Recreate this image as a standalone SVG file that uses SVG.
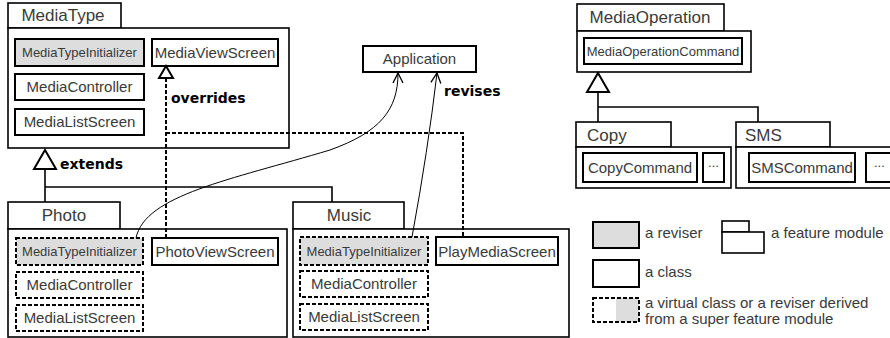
<svg xmlns="http://www.w3.org/2000/svg" width="890" height="338" viewBox="0 0 890 338">
<style>
.mod{fill:#fff;stroke:#000;stroke-width:1.6}
.cls{fill:#fff;stroke:#000;stroke-width:2}
.rev{fill:#ddd;stroke:#000;stroke-width:2}
.dsh{stroke-dasharray:4 2}
.t{font-family:"Liberation Sans",Arial,sans-serif;font-size:15px;fill:#3a3a3a}
.ts{font-family:"Liberation Sans",Arial,sans-serif;font-size:13px;fill:#3a3a3a}
.tt{font-family:"Liberation Sans",Arial,sans-serif;font-size:17px;fill:#3a3a3a}
.b{font-family:"DejaVu Sans",sans-serif;font-weight:bold;font-size:14px;fill:#000}
.ln{fill:none;stroke:#000;stroke-width:1.6}
.dl{fill:none;stroke:#000;stroke-width:2;stroke-dasharray:4 2}
.cv{fill:none;stroke:#000;stroke-width:1}
.tri{fill:#fff;stroke:#000;stroke-width:2}
</style>
<defs>
<marker id="open" viewBox="0 0 12 12" refX="11" refY="6" markerWidth="12" markerHeight="12" markerUnits="userSpaceOnUse" orient="auto">
<path d="M1,1 L11,6 L1,11" fill="none" stroke="#000" stroke-width="1.3"/>
</marker>
</defs>

<g id="MediaType">
<rect class="mod" x="8" y="3" width="113" height="25"/>
<rect class="mod" x="8" y="28" width="281" height="120"/>
<text class="tt" x="63" y="21" text-anchor="middle">MediaType</text>
<g id="MT_MediaTypeInitializer"><rect class="rev" x="15" y="39" width="129" height="27"/><text class="ts" x="79.5" y="57" text-anchor="middle">MediaTypeInitializer</text></g>
<g id="MT_MediaViewScreen"><rect class="cls" x="152" y="39" width="126" height="27"/><text class="t" x="215" y="58" text-anchor="middle">MediaViewScreen</text></g>
<g id="MT_MediaController"><rect class="cls" x="15" y="74" width="129" height="26"/><text class="t" x="79.5" y="92" text-anchor="middle">MediaController</text></g>
<g id="MT_MediaListScreen"><rect class="cls" x="15" y="109" width="129" height="26"/><text class="t" x="79.5" y="127" text-anchor="middle">MediaListScreen</text></g>
</g>

<g id="Application">
<rect class="cls" x="363" y="46" width="113" height="26"/>
<text class="t" x="419.5" y="64" text-anchor="middle">Application</text>
</g>

<g id="Photo">
<rect class="mod" x="8" y="202" width="112" height="27"/>
<rect class="mod" x="8" y="229" width="279" height="108"/>
<text class="tt" x="64" y="221" text-anchor="middle">Photo</text>
<g id="P_MediaTypeInitializer"><rect class="rev dsh" x="16" y="238" width="127" height="27"/><text class="ts" x="79.5" y="256" text-anchor="middle">MediaTypeInitializer</text></g>
<g id="P_PhotoViewScreen"><rect class="cls" x="152" y="238" width="126" height="27"/><text class="t" x="215" y="257" text-anchor="middle">PhotoViewScreen</text></g>
<g id="P_MediaController"><rect class="cls dsh" x="16" y="272" width="127" height="26"/><text class="t" x="79.5" y="290" text-anchor="middle">MediaController</text></g>
<g id="P_MediaListScreen"><rect class="cls dsh" x="16" y="305" width="127" height="26"/><text class="t" x="79.5" y="323" text-anchor="middle">MediaListScreen</text></g>
</g>

<g id="Music">
<rect class="mod" x="293" y="202" width="111" height="27"/>
<rect class="mod" x="293" y="229" width="276" height="108"/>
<text class="tt" x="349" y="221" text-anchor="middle">Music</text>
<g id="M_MediaTypeInitializer"><rect class="rev dsh" x="300" y="237" width="128" height="28"/><text class="ts" x="364" y="256" text-anchor="middle">MediaTypeInitializer</text></g>
<g id="M_PlayMediaScreen"><rect class="cls" x="436" y="237" width="122" height="28"/><text class="t" x="497" y="257" text-anchor="middle">PlayMediaScreen</text></g>
<g id="M_MediaController"><rect class="cls dsh" x="300" y="271" width="128" height="26"/><text class="t" x="364" y="289" text-anchor="middle">MediaController</text></g>
<g id="M_MediaListScreen"><rect class="cls dsh" x="300" y="304" width="128" height="26"/><text class="t" x="364" y="322" text-anchor="middle">MediaListScreen</text></g>
</g>

<g id="MediaOperation">
<rect class="mod" x="577" y="4" width="147" height="27"/>
<rect class="mod" x="577" y="31" width="174" height="41"/>
<text class="tt" x="650" y="23" text-anchor="middle">MediaOperation</text>
<g id="MediaOperationCommand"><rect class="cls" x="584" y="38" width="158" height="26"/><text class="ts" x="663" y="56" text-anchor="middle">MediaOperationCommand</text></g>
</g>

<g id="Copy">
<rect class="mod" x="576" y="122" width="95" height="25"/>
<rect class="mod" x="576" y="147" width="155" height="41"/>
<text class="tt" x="587" y="141">Copy</text>
<g id="CopyCommand"><rect class="cls" x="583" y="153" width="114" height="29"/><text class="t" x="640" y="173" text-anchor="middle">CopyCommand</text></g>
<g id="CopyMore"><rect class="cls" x="703" y="153" width="21" height="29"/><text class="ts" x="713.5" y="167" text-anchor="middle">...</text></g>
</g>

<g id="SMS">
<rect class="mod" x="736" y="122" width="94" height="25"/>
<rect class="mod" x="736" y="147" width="160" height="41"/>
<text class="tt" x="745" y="141">SMS</text>
<g id="SMSCommand"><rect class="cls" x="749" y="153" width="106" height="29"/><text class="t" x="802" y="173" text-anchor="middle">SMSCommand</text></g>
<g id="SMSMore"><rect class="cls" x="866" y="153" width="30" height="29"/><text class="ts" x="874" y="167">...</text></g>
</g>

<g id="connectors">
<!-- extends -->
<polyline class="ln" points="45,169 45,202"/>
<polyline class="ln" points="45,187 332,187 332,202"/>
<polygon class="tri" points="45,150 34,169 56,169"/>
<!-- overrides -->
<polyline class="dl" points="166,78 166,238"/>
<polyline class="dl" points="166,133 463,133 463,237"/>
<polygon class="tri" points="166,66 159,78 173,78"/>
<!-- revises -->
<path class="cv" d="M136,238 C145,195 230,180 330,150 C380,132 398,110 398,73" marker-end="url(#open)"/>
<path class="cv" d="M412,237 Q428,150 437,73" marker-end="url(#open)"/>
<!-- MediaOperation inheritance -->
<polyline class="ln" points="598,92 598,122"/>
<polyline class="ln" points="598,107 758,107 758,122"/>
<polygon class="tri" points="598,73 587,92 609,92"/>
</g>

<g id="labels">
<text class="b" x="171" y="103">overrides</text>
<text class="b" x="60" y="169">extends</text>
<text class="b" x="444" y="96">revises</text>
</g>

<g id="legend">
<rect class="rev" x="593" y="222" width="46" height="26"/>
<text class="t" x="645" y="238">a reviser</text>
<rect class="mod" x="722" y="221" width="27" height="11"/>
<rect class="mod" x="722" y="232" width="42" height="21"/>
<text class="t" x="771" y="238">a feature module</text>
<rect class="cls" x="593" y="260" width="46" height="27"/>
<text class="t" x="645" y="277">a class</text>
<rect x="616" y="298" width="23" height="24" fill="#ddd"/>
<rect x="593" y="298" width="46" height="24" fill="none" stroke="#000" stroke-width="2" stroke-dasharray="4 2"/>
<text class="t" x="645" y="308">a virtual class or a reviser derived</text>
<text class="t" x="645" y="324">from a super feature module</text>
</g>
</svg>
